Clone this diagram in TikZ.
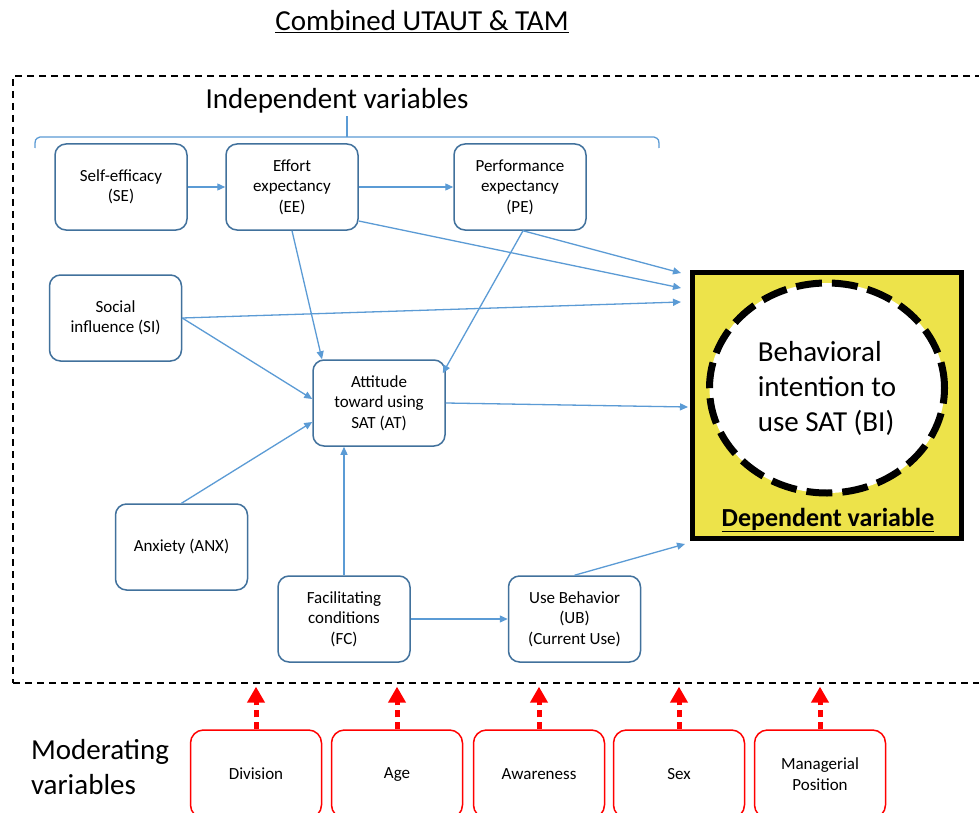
\documentclass[tikz,border=0pt]{standalone}
\usepackage{fontspec}
\setmainfont{Carlito}
\usetikzlibrary{arrows.meta,shapes.geometric}
\definecolor{boxblue}{HTML}{41719C}
\definecolor{arrblue}{HTML}{5B9BD5}
\definecolor{biyellow}{HTML}{EDE34A}
\definecolor{modred}{HTML}{FF0000}
\begin{document}
\begin{tikzpicture}[x=1pt,y=-1pt,
  varbox/.style={draw=boxblue, line width=1.5pt, rounded corners=11pt,
    minimum width=132pt, minimum height=86pt, align=center, inner sep=0pt,
    font=\fontsize{17}{20.5}\selectfont},
  link/.style={draw=arrblue, line width=1.3pt, -{Triangle[length=8pt,width=7pt]}},
  modbox/.style={draw=modred, line width=1.5pt, rounded corners=13pt,
    minimum width=131pt, minimum height=88pt, align=center, inner sep=0pt,
    font=\fontsize{17}{20.5}\selectfont},
  modarrow/.style={draw=modred, line width=5pt, dash pattern=on 7pt off 5pt,
    -{Triangle[length=16pt,width=17pt]}},
  bigtext/.style={font=\fontsize{29}{35}\selectfont, align=left, inner sep=0pt}
]
\clip (0,0) rectangle (979,813);
\fill[white] (0,0) rectangle (979,813);

% title
\node[font=\fontsize{29}{32}\selectfont, inner sep=0pt] (title) at (422,22) {\underline{Combined UTAUT \& TAM}};

% dashed frame of the model
\node[draw=black, line width=1.3pt, dash pattern=on 7pt off 5pt, minimum width=985pt,
  minimum height=607pt, inner sep=0pt] (frame) at (505.5,379.5) {};

% brace over the independent variables
\node[font=\fontsize{29}{32}\selectfont, inner sep=0pt] (indep) at (337,101) {Independent variables};
\draw[arrblue, line width=1.3pt] (35,148) .. controls (35,139) .. (40,137) -- (654,137)
  .. controls (659,139) .. (659,148);
\draw[arrblue, line width=1.3pt] (347,137) -- (347,116);

% dependent variable
\node[draw=black, line width=5pt, fill=biyellow, minimum width=269pt, minimum height=266pt,
  inner sep=0pt] (dep) at (827,405.5) {};
\node[ellipse, draw=black, fill=white, line width=7pt, dash pattern=on 26pt off 10pt,
  minimum width=235pt, minimum height=210pt, inner sep=0pt, align=left,
  font=\fontsize{29}{35}\selectfont] (bi) at (827,388) {Behavioral\\intention to\\use SAT (BI)};
\node[font=\fontsize{26}{28}\selectfont\bfseries, inner sep=0pt] (deplabel) at (828,520) {\underline{Dependent variable}};

% independent variables
\node[varbox] (se) at (121,187) {Self-efficacy\\(SE)};
\node[varbox] (ee) at (292,187) {Effort\\expectancy\\(EE)};
\node[varbox] (pe) at (520,187) {Performance\\expectancy\\(PE)};
\node[varbox] (si) at (115.5,318) {Social\\influence (SI)};
\node[varbox] (at) at (379,403) {Attitude\\toward using\\SAT (AT)};
\node[varbox] (anx) at (181.5,547) {Anxiety (ANX)};
\node[varbox] (fc) at (344,619) {Facilitating\\conditions\\(FC)};
\node[varbox] (ub) at (574.5,619) {Use Behavior\\(UB)\\(Current Use)};

% arrow ends on the dependent variable
\coordinate (bi1) at (681,273);
\coordinate (bi2) at (681,288);
\coordinate (bi3) at (681,302);
\coordinate (bi4) at (688,407);
\coordinate (bi5) at (685,544);

% paths
\draw[link] (se) -- (ee);
\draw[link] (ee) -- (pe);
\draw[link] ([yshift=-34pt]ee.east) -- (bi2);
\draw[link] ([xshift=3pt]pe.south) -- (bi1);
\draw[link] (si.east) -- (bi3);
\draw[link] (si.east) -- ([yshift=4pt]at.west);
\draw[link] (ee.south) -- ([xshift=-57pt]at.north);
\draw[link] ([xshift=3pt]pe.south) -- ([xshift=-3pt,yshift=-14pt]at.north east);
\draw[link] (anx.north) -- ([yshift=-19pt]at.west);
\draw[link] (fc.north) -- (at.south -| fc.north);
\draw[link] (at.east) -- (bi4);
\draw[link] (fc) -- (ub);
\draw[link] (ub.north) -- (bi5);

% moderating variables
\node[bigtext] (modlabel) at (100,767) {Moderating\\variables};
\node[modbox] (div) at (256,774) {Division};
\node[modbox] (age) at (397,774) {Age};
\node[modbox] (awa) at (539,774) {Awareness};
\node[modbox] (sex) at (679,774) {Sex};
\node[modbox] (man) at (820,774) {Managerial\\Position};

\foreach \m in {div,age,awa,sex,man}
  \draw[modarrow] (\m.north) -- ([yshift=-3pt]\m.north |- frame.south);
\end{tikzpicture}
\end{document}
